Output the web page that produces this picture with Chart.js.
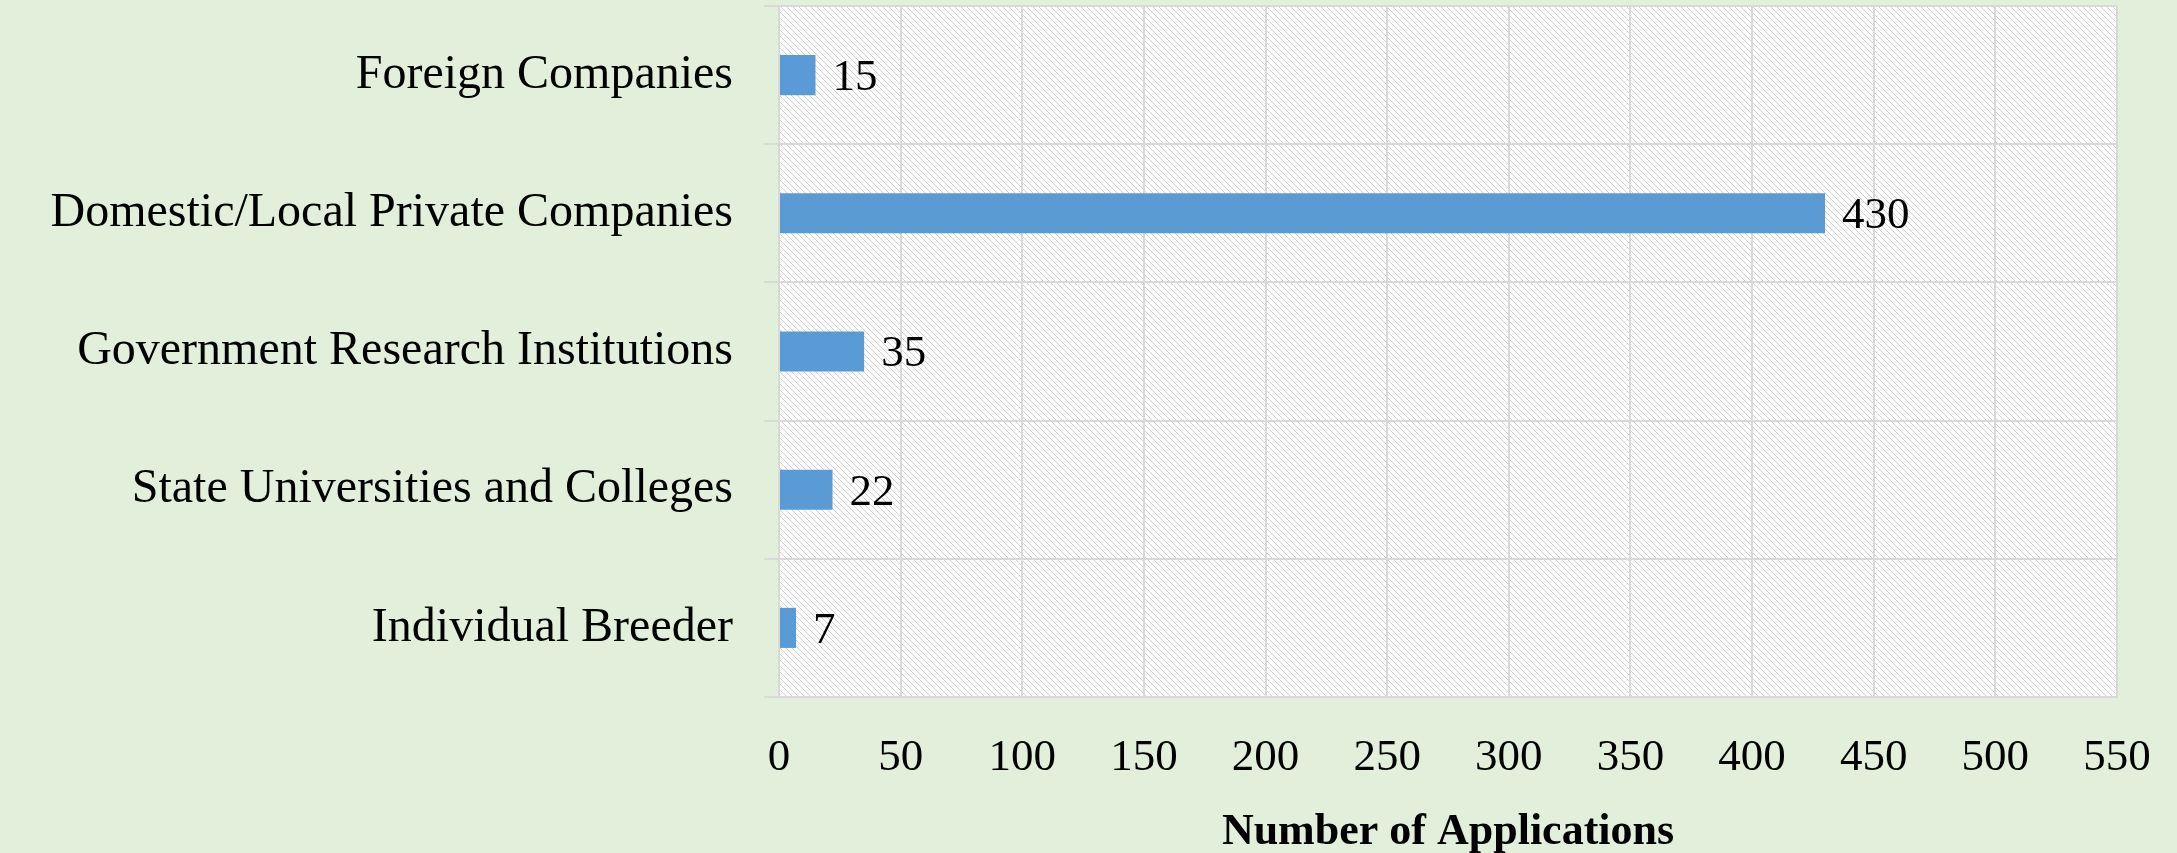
<!DOCTYPE html>
<html>
<head>
<meta charset="utf-8">
<script src="https://cdn.jsdelivr.net/npm/chart.js@4"></script>
<style>
  html, body { margin: 0; padding: 0; background: #e2efda; }
  #wrap { width: 2177px; height: 853px; }
</style>
</head>
<body>
<div id="wrap"><canvas id="chart" width="2177" height="853"></canvas></div>
<script>
const categories = [
  'Foreign Companies',
  'Domestic/Local Private Companies',
  'Government Research Institutions',
  'State Universities and Colleges',
  'Individual Breeder'
]
const applications = [15, 430, 35, 22, 7]
const axisMin = 0
const axisMax = 550
const axisStep = 50
const axisTitle = 'Number of Applications'

const FONT = 'Liberation Serif'

// "\\" hatch used in the plot area
function makeHatch() {
  const tile = document.createElement('canvas')
  tile.width = 6
  tile.height = 6
  const t = tile.getContext('2d')
  t.fillStyle = '#ffffff'
  t.fillRect(0, 0, 6, 6)
  t.fillStyle = '#cfcfcf'
  for (let i = 0; i < 6; i++) t.fillRect(i, i, 1, 1)
  return t.createPattern(tile, 'repeat')
}

const backgroundPlugin = {
  id: 'background',
  beforeDraw(chart) {
    const { ctx, chartArea } = chart
    ctx.save()
    ctx.fillStyle = '#e2efda'
    ctx.fillRect(0, 0, chart.width, chart.height)
    ctx.fillStyle = makeHatch()
    ctx.fillRect(chartArea.left, chartArea.top, chartArea.right - chartArea.left, chartArea.bottom - chartArea.top)
    ctx.restore()
  }
}

const valueLabels = {
  id: 'valueLabels',
  afterDatasetsDraw(chart) {
    const { ctx } = chart
    const meta = chart.getDatasetMeta(0)
    ctx.save()
    ctx.font = `45px "${FONT}"`
    ctx.fillStyle = '#000000'
    ctx.textAlign = 'left'
    ctx.textBaseline = 'middle'
    meta.data.forEach((bar, i) => {
      ctx.fillText(String(applications[i]), bar.x + 17, bar.y + 3)
    })
    ctx.restore()
  }
}

const ctx = document.getElementById('chart').getContext('2d')
new Chart(ctx, {
  type: 'bar',
  data: {
    labels: categories,
    datasets: [{
      data: applications,
      backgroundColor: '#5b9bd5',
      borderWidth: 0,
      categoryPercentage: 1,
      barPercentage: 0.29
    }]
  },
  options: {
    indexAxis: 'y',
    responsive: false,
    animation: false,
    devicePixelRatio: 1,
    layout: { padding: { top: 6, right: 60, bottom: 0, left: 0 } },
    plugins: {
      legend: { display: false },
      tooltip: { enabled: false }
    },
    scales: {
      x: {
        min: axisMin,
        max: axisMax,
        ticks: {
          stepSize: axisStep,
          padding: 34,
          color: '#000000',
          font: { family: FONT, size: 45 }
        },
        grid: { color: '#d9d9d9', lineWidth: 2, drawTicks: false },
        border: { color: '#d9d9d9', width: 2 },
        title: {
          display: true,
          text: axisTitle,
          color: '#000000',
          padding: 0,
          font: { family: FONT, size: 44, weight: 'bold', lineHeight: 0.92 }
        },
        afterFit(scale) {
          scale.height = 156
          scale.paddingLeft = 0
          scale.paddingRight = 0
        }
      },
      y: {
        ticks: {
          padding: 31,
          color: '#000000',
          font: { family: FONT, size: 48 }
        },
        grid: { color: '#d9d9d9', lineWidth: 2, drawTicks: true, tickLength: 15 },
        border: { color: '#d9d9d9', width: 2 },
        afterFit(scale) {
          scale.width = 779
          scale.paddingTop = 0
          scale.paddingBottom = 0
        }
      }
    }
  },
  plugins: [backgroundPlugin, valueLabels]
})
</script>
</body>
</html>
